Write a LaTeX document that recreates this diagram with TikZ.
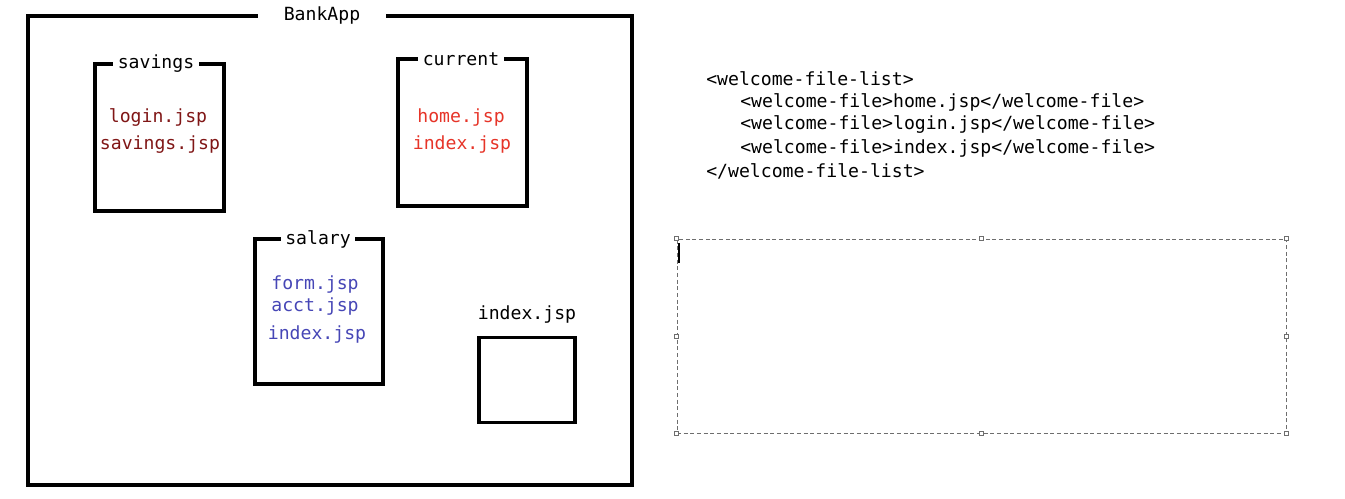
\documentclass[tikz,border=0pt]{standalone}
\usepackage{fontspec}
\setmonofont{DejaVu Sans Mono}
\usetikzlibrary{positioning}
\definecolor{savred}{RGB}{128,22,22}
\definecolor{curred}{RGB}{230,52,40}
\definecolor{salblue}{RGB}{70,70,182}
\definecolor{handlegray}{RGB}{110,110,110}

\begin{document}
\begin{tikzpicture}
	[x=0.75pt,y=-0.75pt,
	every node/.style={font=\fontsize{13.6}{16}\selectfont\ttfamily, inner sep=0pt},
	folder/.style={line width=2.4pt, line cap=rect},
	gaplabel/.style={inner xsep=4.5pt},
	handle/.style={draw=handlegray, fill=white, line width=0.4pt, minimum size=3pt}];

	\useasboundingbox (0,0) rectangle (1345,499);

	%BankApp
	\node[inner xsep=20pt] (bank) at (322,16) {BankApp};
	\draw[folder] (bank.west) -| (28,485) -| (632,16) -- (bank.east);

	%savings
	\node[gaplabel] (sav) at (156,64) {savings};
	\draw[folder] (sav.west) -| (95,211) -| (224,64) -- (sav.east);
	\node[text=savred] (login) at (158,118) {login.jsp};
	\node[text=savred] (savjsp) at (160,145) {savings.jsp};

	%current
	\node[gaplabel] (cur) at (461,59) {current};
	\draw[folder] (cur.west) -| (398,206) -| (527,59) -- (cur.east);
	\node[text=curred] (home) at (461,117) {home.jsp};
	\node[text=curred] (curidx) at (462,144) {index.jsp};

	%salary
	\node[gaplabel] (sal) at (318,239) {salary};
	\draw[folder] (sal.west) -| (255,384) -| (383,239) -- (sal.east);
	\node[text=salblue] (form) at (315,284) {form.jsp};
	\node[text=salblue] (acct) at (315,306) {acct.jsp};
	\node[text=salblue] (salidx) at (317,334) {index.jsp};

	%index.jsp
	\node[draw, line width=2.4pt, minimum width=72pt, minimum height=64pt] (idxbox) at (527,380) {};
	\node[above=9pt of idxbox] (idxlbl) {index.jsp};

	%welcome-file-list
	\node[anchor=west] (wfl) at (706,79) {<welcome-file-list>};
	\node[anchor=west] (wf1) at (740,102) {<welcome-file>home.jsp</welcome-file>};
	\node[anchor=west] (wf2) at (740,125) {<welcome-file>login.jsp</welcome-file>};
	\node[anchor=west] (wf3) at (740,148) {<welcome-file>index.jsp</welcome-file>};
	\node[anchor=west] (wfe) at (706,171) {</welcome-file-list>};

	%text box
	\node[draw=handlegray, dash pattern=on 3pt off 2pt, line width=0.5pt, minimum width=457pt, minimum height=145.5pt] (tbox) at (981.5,336) {};
	\foreach \a [count=\i] in {north west,north,north east,east,south east,south,south west,west}
		\node[handle] (h\i) at (tbox.\a) {};
	\coordinate (cur1) at (679,243);
	\coordinate (cur2) at (679,263);
	\draw[line width=0.8pt] (cur1) -- (cur2);
\end{tikzpicture}
\end{document}
